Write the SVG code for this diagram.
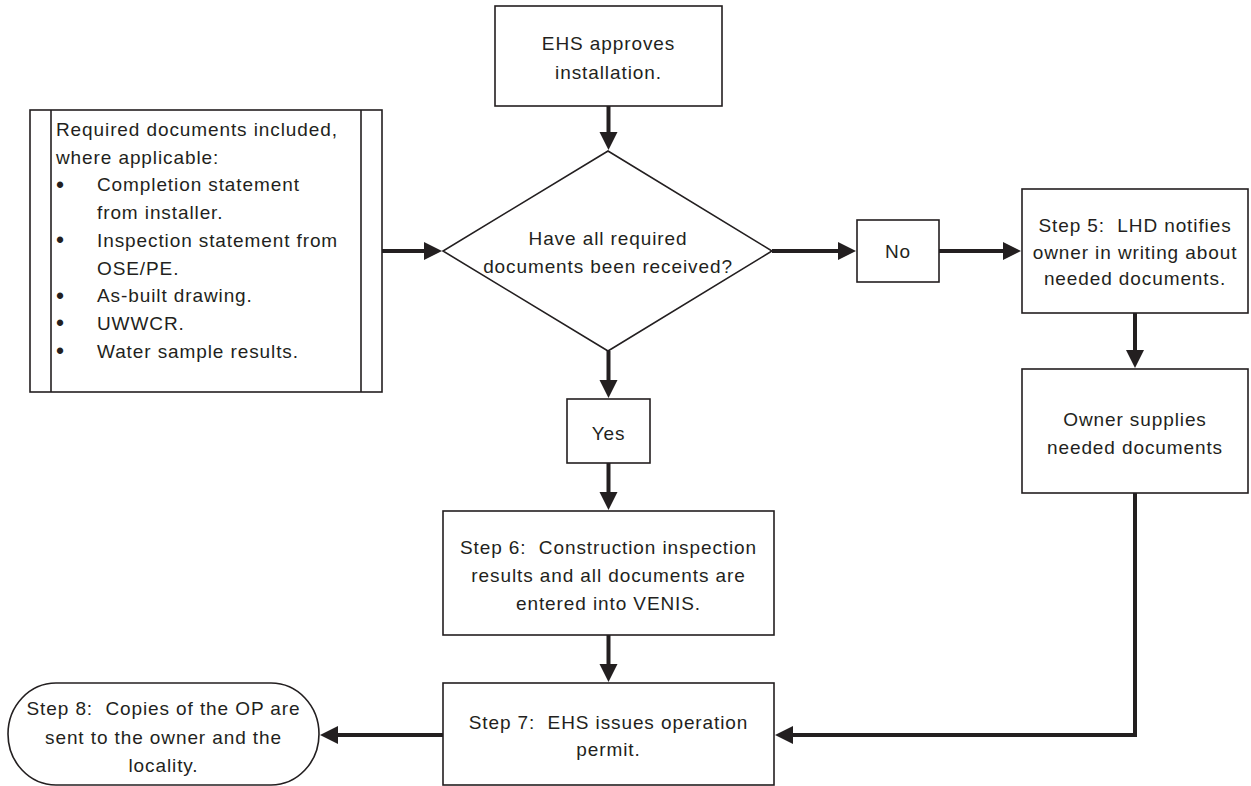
<svg xmlns="http://www.w3.org/2000/svg" width="1251" height="786" viewBox="0 0 1251 786">
  <style>
    .box { fill: #ffffff; stroke: #231f20; stroke-width: 1.6; }
    .conn { fill: none; stroke: #231f20; stroke-width: 4; }
    text { font-family: "Liberation Sans", Arial, sans-serif; font-size: 19px; fill: #231f20; letter-spacing: 0.9px; white-space: pre; }
    .c { text-anchor: middle; }
    .bullet { font-size: 23px; letter-spacing: 0; text-anchor: middle; }
  </style>
  <defs>
    <marker id="arrow" markerUnits="userSpaceOnUse" markerWidth="19" markerHeight="19" refX="1" refY="9" orient="auto" viewBox="0 0 19 18">
      <path d="M0,0 L18,9 L0,18 z" fill="#231f20"/>
    </marker>
  </defs>
  <rect width="1251" height="786" fill="#ffffff"/>

  <!-- connectors (lines stop at the arrowhead base; the marker draws the tip) -->
  <g id="connectors">
    <line class="conn" x1="608.5" y1="106" x2="608.5" y2="133" marker-end="url(#arrow)"/>
    <line class="conn" x1="382" y1="251" x2="425" y2="251" marker-end="url(#arrow)"/>
    <line class="conn" x1="772" y1="251" x2="839" y2="251" marker-end="url(#arrow)"/>
    <line class="conn" x1="939" y1="251" x2="1004" y2="251" marker-end="url(#arrow)"/>
    <line class="conn" x1="1135" y1="313" x2="1135" y2="351" marker-end="url(#arrow)"/>
    <line class="conn" x1="608.5" y1="351" x2="608.5" y2="381" marker-end="url(#arrow)"/>
    <line class="conn" x1="608.5" y1="463" x2="608.5" y2="493" marker-end="url(#arrow)"/>
    <line class="conn" x1="608.5" y1="635" x2="608.5" y2="665" marker-end="url(#arrow)"/>
    <polyline class="conn" points="1135,493 1135,735 792,735" marker-end="url(#arrow)"/>
    <line class="conn" x1="443" y1="735" x2="337" y2="735" marker-end="url(#arrow)"/>
  </g>

  <g id="ehs-approves">
    <rect class="box" x="495" y="6" width="227" height="100"/>
    <text class="c" x="608.5" y="50">EHS approves</text>
    <text class="c" x="608.5" y="78.5">installation.</text>
  </g>

  <g id="required-documents">
    <rect class="box" x="30" y="110" width="352" height="282"/>
    <line class="box" x1="51" y1="110" x2="51" y2="392"/>
    <line class="box" x1="361" y1="110" x2="361" y2="392"/>
    <text x="56" y="136">Required documents included,</text>
    <text x="56" y="163.7">where applicable:</text>
    <text class="bullet" x="60" y="192.8">•</text>
    <text x="97" y="191.4">Completion statement</text>
    <text x="97" y="219.1">from installer.</text>
    <text class="bullet" x="60" y="248.2">•</text>
    <text x="97" y="246.8">Inspection statement from</text>
    <text x="97" y="274.5">OSE/PE.</text>
    <text class="bullet" x="60" y="303.6">•</text>
    <text x="97" y="302.2">As-built drawing.</text>
    <text class="bullet" x="60" y="331.3">•</text>
    <text x="97" y="329.9">UWWCR.</text>
    <text class="bullet" x="60" y="359">•</text>
    <text x="97" y="357.6">Water sample results.</text>
  </g>

  <g id="decision">
    <polygon class="box" points="608,151 772,251 608,351 443,251"/>
    <text class="c" x="608" y="245">Have all required</text>
    <text class="c" x="608" y="272.5">documents been received?</text>
  </g>

  <g id="no">
    <rect class="box" x="857" y="220" width="82" height="62"/>
    <text class="c" x="898" y="258">No</text>
  </g>

  <g id="step5">
    <rect class="box" x="1022" y="189" width="226" height="124"/>
    <text class="c" x="1135" y="232">Step 5:  LHD notifies</text>
    <text class="c" x="1135" y="258.5">owner in writing about</text>
    <text class="c" x="1135" y="285">needed documents.</text>
  </g>

  <g id="owner-supplies">
    <rect class="box" x="1022" y="369" width="226" height="124"/>
    <text class="c" x="1135" y="426">Owner supplies</text>
    <text class="c" x="1135" y="453.5">needed documents</text>
  </g>

  <g id="yes">
    <rect class="box" x="567" y="399" width="83" height="64"/>
    <text class="c" x="608.5" y="440">Yes</text>
  </g>

  <g id="step6">
    <rect class="box" x="443" y="511" width="331" height="124"/>
    <text class="c" x="608.5" y="554">Step 6:  Construction inspection</text>
    <text class="c" x="608.5" y="582">results and all documents are</text>
    <text class="c" x="608.5" y="610">entered into VENIS.</text>
  </g>

  <g id="step7">
    <rect class="box" x="443" y="683" width="331" height="102"/>
    <text class="c" x="608.5" y="728.5">Step 7:  EHS issues operation</text>
    <text class="c" x="608.5" y="756">permit.</text>
  </g>

  <g id="step8">
    <rect class="box" x="8" y="683" width="311" height="102" rx="48" ry="51"/>
    <text class="c" x="163.5" y="715">Step 8:  Copies of the OP are</text>
    <text class="c" x="163.5" y="743.5">sent to the owner and the</text>
    <text class="c" x="163.5" y="772">locality.</text>
  </g>
</svg>
